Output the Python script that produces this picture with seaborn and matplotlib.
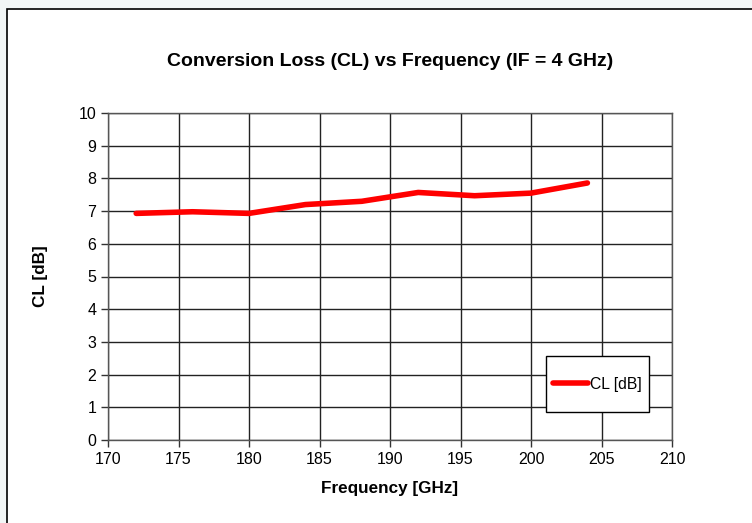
import seaborn as sns
import matplotlib.pyplot as plt
import matplotlib.patches as patches
import pandas as pd

# Data
freq_ghz = [172, 176, 180, 184, 188, 192, 196, 200, 204]
cl_db = [6.93, 6.98, 6.93, 7.20, 7.30, 7.57, 7.47, 7.55, 7.86]
x_ticks = [170, 175, 180, 185, 190, 195, 200, 205, 210]
y_ticks = list(range(0, 11))

df = pd.DataFrame({"Frequency [GHz]": freq_ghz, "CL [dB]": cl_db})

sns.set_theme(style="white")
plt.rcParams['font.family'] = ['Liberation Sans', 'DejaVu Sans']
plt.rcParams['text.color'] = 'black'
plt.rcParams['axes.labelcolor'] = 'black'

fig = plt.figure(figsize=(7.52, 5.23), dpi=100, facecolor="#f2f6f6")
# white chart area with a black border (runs off the right/bottom edge)
fig.patches.append(patches.Rectangle((7 / 752, -0.05), 1.1, 1.05 - 9 / 523,
                                     transform=fig.transFigure, facecolor="white",
                                     edgecolor="black", linewidth=1.2, zorder=-10))

ax = fig.add_axes([108 / 752, 1 - 440 / 523, 564 / 752, 327 / 523])
ax.set_facecolor("white")

sns.lineplot(data=df, x="Frequency [GHz]", y="CL [dB]", ax=ax,
             color="#ff0000", linewidth=4, label="CL [dB]",
             solid_capstyle="round", solid_joinstyle="round")

ax.set_xlim(170, 210)
ax.set_ylim(0, 10)
ax.set_xticks(x_ticks)
ax.set_yticks(y_ticks)
ax.grid(True, color="#222222", linewidth=1)
ax.set_axisbelow(True)
for s in ax.spines.values():
    s.set_color("#555555")
    s.set_linewidth(1)
ax.tick_params(axis="both", direction="out", length=5, width=1, color="#333333",
               labelsize=11.5, labelcolor="black", left=True, bottom=True)

ax.set_xlabel("Frequency [GHz]", fontsize=12.3, fontweight="bold", labelpad=10)
ax.set_ylabel("CL [dB]", fontsize=12.3, fontweight="bold", labelpad=22)
fig.text(390 / 752, 1 - 61 / 523, "Conversion Loss (CL) vs Frequency (IF = 4 GHz)",
         ha="center", va="center", fontsize=14, fontweight="bold")

# legend box: square-cornered white frame, taller than the entry itself
bx, by, bw, bh = (546 - 108) / 564, (440 - 412) / 327, 103 / 564, 56 / 327
ax.add_patch(patches.Rectangle((bx, by), bw, bh, transform=ax.transAxes,
                               facecolor="white", edgecolor="black",
                               linewidth=1, zorder=4))
ax.legend(loc="center", bbox_to_anchor=(bx + bw / 2, by + bh / 2),
          frameon=False, fontsize=11.3, handlelength=2.2,
          handletextpad=0.15, borderpad=0, borderaxespad=0)

fig.savefig("out.png", dpi=100, facecolor=fig.get_facecolor())
